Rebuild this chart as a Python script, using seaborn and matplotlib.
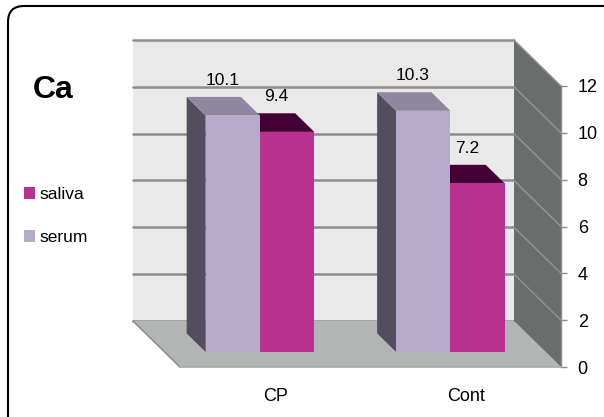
import matplotlib

matplotlib.use("Agg")

import matplotlib.pyplot as plt
import matplotlib.transforms as mtransforms
import numpy as np
import pandas as pd
import seaborn as sns
from matplotlib.patches import FancyBboxPatch, Patch, Polygon

# data
groups = ["CP", "Cont"]
series = ["serum", "saliva"]
serum_values = [10.1, 10.3]
saliva_values = [9.4, 7.2]
y_ticks = [0, 2, 4, 6, 8, 10, 12]
legend_order = ["saliva", "serum"]
title_text = "Ca"

# colours (Excel 3-D column look)
front_colors = {"serum": "#b7abcb", "saliva": "#b9318f"}
top_colors = {"serum": "#8e879f", "saliva": "#420035"}
side_colors = {"serum": "#534e5e", "saliva": "#420035"}
WALL_BACK = "#e9e9e9"
WALL_GRID = "#8d8d8d"
FLOOR = "#b3b5b5"
WALL_RIGHT = "#6b6d6d"
WALL_RIGHT_GRID = "#929595"

# oblique depth: full depth in pixels, and where the bars sit in depth
DEPTH_PX = np.array([-47.0, 46.0])
BAR_FRONT, BAR_BACK = 0.326, 0.73

sns.set_style("white")
plt.rcParams["font.family"] = ["Liberation Sans", "DejaVu Sans"]
plt.rcParams["text.color"] = "black"
plt.rcParams["xtick.labelcolor"] = "black"
plt.rcParams["ytick.labelcolor"] = "black"

fig = plt.figure(figsize=(6.04, 4.17), dpi=100)
ax = fig.add_axes([180 / 604, 50 / 417, 381 / 604, 281 / 417])
ax.set_facecolor("none")

df = pd.DataFrame(
    {
        "group": groups * 2,
        "series": ["serum"] * len(groups) + ["saliva"] * len(groups),
        "value": serum_values + saliva_values,
    }
)

sns.barplot(
    data=df,
    x="group",
    y="value",
    hue="series",
    hue_order=series,
    palette=front_colors,
    order=groups,
    width=0.57,
    saturation=1,
    errorbar=None,
    linewidth=0,
    legend=False,
    ax=ax,
)
bars = list(ax.patches)

ax.set_xlim(-0.5, len(groups) - 0.5)
ax.set_ylim(y_ticks[0], y_ticks[-1])
x_lo, x_hi = ax.get_xlim()
y_lo, y_hi = ax.get_ylim()


def proj(x, y, d):
    px, py = ax.transData.transform((x, y))
    return ax.transData.inverted().transform((px + d * DEPTH_PX[0], py + d * DEPTH_PX[1]))


def face(points, color, z):
    poly = Polygon(
        [proj(*p) for p in points],
        closed=True,
        facecolor=color,
        edgecolor="none",
        zorder=z,
        clip_on=False,
    )
    ax.add_patch(poly)


# walls and floor
face([(x_lo, y_lo, 1), (x_hi, y_lo, 1), (x_hi, y_hi, 1), (x_lo, y_hi, 1)], WALL_BACK, 0.3)
for v in y_ticks:
    a, b = proj(x_lo, v, 1), proj(x_hi, v, 1)
    ax.plot([a[0], b[0]], [a[1], b[1]], color=WALL_GRID, lw=1.8, zorder=0.4, clip_on=False)
face([(x_lo, y_lo, 0), (x_hi, y_lo, 0), (x_hi, y_lo, 1), (x_lo, y_lo, 1)], FLOOR, 0.5)
face([(x_hi, y_lo, 0), (x_hi, y_hi, 0), (x_hi, y_hi, 1), (x_hi, y_lo, 1)], WALL_RIGHT, 0.5)
for v in y_ticks[1:]:
    a, b = proj(x_hi, v, 0), proj(x_hi, v, 1)
    ax.plot([a[0], b[0]], [a[1], b[1]], color=WALL_RIGHT_GRID, lw=1.0, zorder=0.6, clip_on=False)
a, b = proj(x_lo, y_lo, 0), proj(x_lo, y_lo, 1)
ax.plot([a[0], b[0]], [a[1], b[1]], color=WALL_GRID, lw=1.2, zorder=0.6, clip_on=False)

# bars: shift seaborn's front faces back, then add the side and top faces
front_shift = mtransforms.offset_copy(
    ax.transData, fig=fig, x=BAR_FRONT * DEPTH_PX[0], y=BAR_FRONT * DEPTH_PX[1], units="dots"
)
n = len(groups)
for i, bar in enumerate(bars):
    name = series[i // n]
    x0 = bar.get_x()
    x1 = x0 + bar.get_width()
    h = bar.get_height()
    z = 2.5 if name == "serum" else 2.0
    face([(x0, 0, BAR_FRONT), (x0, h, BAR_FRONT), (x0, h, BAR_BACK), (x0, 0, BAR_BACK)], side_colors[name], z)
    face([(x0, h, BAR_FRONT), (x1, h, BAR_FRONT), (x1, h, BAR_BACK), (x0, h, BAR_BACK)], top_colors[name], z)
    bar.set_transform(front_shift)
    bar.set_zorder(3)
    bar.set_clip_on(False)

    lx, ly = proj((x0 + x1) / 2, h, BAR_BACK)
    ax.annotate(
        f"{h:.1f}",
        (lx, ly),
        xytext=(6, 12),
        textcoords="offset points",
        ha="center",
        va="center",
        fontsize=12.5,
        color="black",
        annotation_clip=False,
        zorder=4,
    )

# axes
for side in ["left", "top"]:
    ax.spines[side].set_visible(False)
ax.spines["right"].set_color("#8c8e8e")
ax.spines["bottom"].set_color("#a8a8a8")
ax.spines["right"].set_linewidth(1.0)
ax.spines["bottom"].set_linewidth(1.2)

ax.yaxis.tick_right()
ax.set_yticks(y_ticks)
ax.set_yticklabels([str(v) for v in y_ticks])
ax.tick_params(axis="y", which="major", direction="out", length=4, width=1,
               color="#8c8e8e", pad=8, labelsize=13)

ax.set_xticks(np.arange(-0.5, n, 1.0))
ax.set_xticklabels([])
ax.set_xticks(np.arange(n), minor=True)
ax.set_xticklabels(groups, minor=True)
ax.tick_params(axis="x", which="major", direction="out", length=4.5, width=1, color="#a8a8a8")
ax.tick_params(axis="x", which="minor", length=0, pad=15, labelsize=13)
ax.set_xlabel("")
ax.set_ylabel("")
ax.grid(False)

# title and legend on the left
fig.text(33 / 604, 1 - 90 / 417, title_text, fontsize=23, fontweight="bold",
         ha="left", va="center", color="black")

handles = [Patch(facecolor=front_colors[s], edgecolor="none", label=s) for s in legend_order]
fig.legend(
    handles=handles,
    loc="center left",
    bbox_to_anchor=(24 / 604, 1 - 216 / 417),
    frameon=False,
    fontsize=12.5,
    handlelength=0.62,
    handleheight=0.72,
    handletextpad=0.3,
    labelspacing=1.6,
    borderpad=0,
    borderaxespad=0,
)

# rounded frame round the whole picture
frame = FancyBboxPatch(
    (8, -40),
    640,
    417 - 6 + 40,
    boxstyle="round,pad=0,rounding_size=16",
    transform=mtransforms.IdentityTransform(),
    facecolor="none",
    edgecolor="black",
    linewidth=1.5,
)
fig.add_artist(frame)

fig.savefig("out.png", dpi=100, facecolor="white")
